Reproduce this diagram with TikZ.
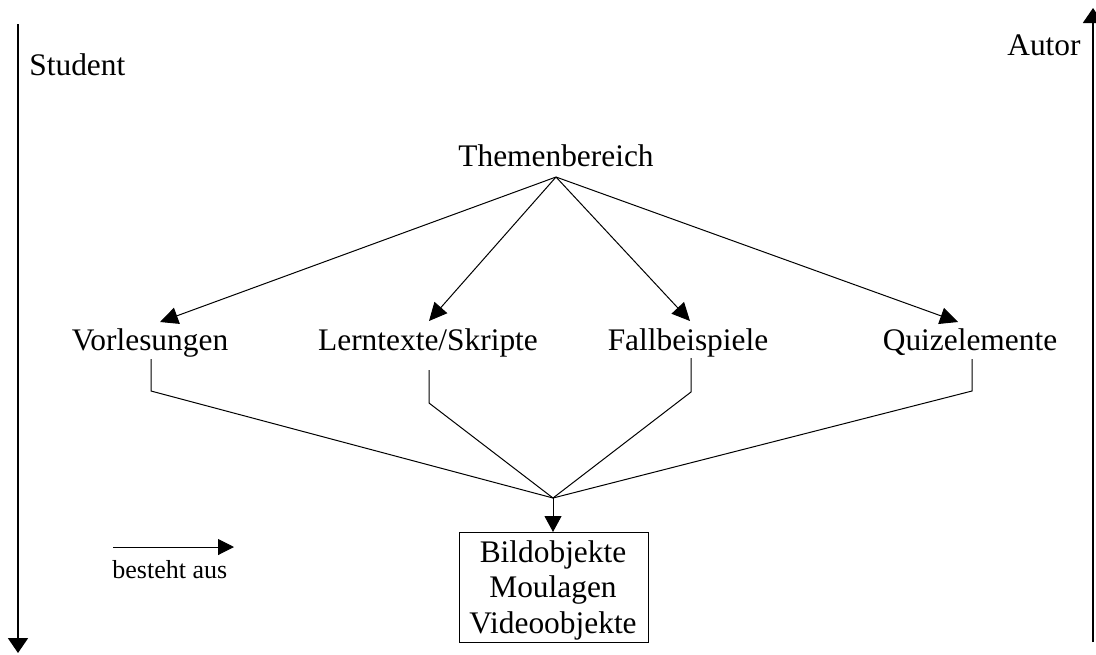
\documentclass[tikz,border=0pt]{standalone}
\usepackage{fontspec}
\setmainfont{Liberation Serif}
\usetikzlibrary{arrows.meta}
\begin{document}
\begin{tikzpicture}[x=0.5pt,y=-0.5pt,
  lbl/.style={inner sep=0pt,anchor=base,font=\fontsize{15.7}{18}\selectfont},
  small/.style={inner sep=0pt,anchor=base west,font=\fontsize{13}{15}\selectfont},
  thin/.style={line width=0.5pt},
  link/.style={thin,-{Triangle[length=9pt,width=8.5pt]}},
  axis/.style={line width=1pt,-{Triangle[length=7.5pt,width=10pt]}}]
\useasboundingbox (0,0) rectangle (1096,654);

% role axes
\coordinate (s0) at (18,24);
\coordinate (s1) at (18,653);
\draw[axis] (s0) -- (s1);
\coordinate (a0) at (1093,642);
\coordinate (a1) at (1093,8);
\draw[axis] (a0) -- (a1);
\node[small,anchor=base west,font=\fontsize{15.7}{18}\selectfont] (student) at (29,75) {Student};
\node[small,anchor=base east,font=\fontsize{15.7}{18}\selectfont] (autor) at (1081,55) {Autor};

% topic and its parts
\node[lbl] (thema) at (556,166) {Themenbereich};
\coordinate (apex) at (556,177);

\node[lbl] (vor) at (150,350) {Vorlesungen};
\node[lbl] (lern) at (428,350) {Lerntexte/Skripte};
\node[lbl] (fall) at (688,350) {Fallbeispiele};
\node[lbl] (quiz) at (970,350) {Quizelemente};

\coordinate (tvor) at (160,322);
\coordinate (tlern) at (429,321);
\coordinate (tfall) at (690,321);
\coordinate (tquiz) at (958,322);
\draw[link] (apex) -- (tvor);
\draw[link] (apex) -- (tlern);
\draw[link] (apex) -- (tfall);
\draw[link] (apex) -- (tquiz);

% media objects shared by all parts
\coordinate (join) at (553,498);
\draw[thin] (151,359) -- (151,391) -- (join);
\draw[thin] (429,370) -- (429,403) -- (join);
\draw[thin] (691,358) -- (691,392) -- (join);
\draw[thin] (972,359) -- (972,391) -- (join);

\draw[thin] (459,532) rectangle (648,642);
\node[lbl] (bild) at (553,562) {Bildobjekte};
\node[lbl] (moul) at (553,597) {Moulagen};
\node[lbl] (video) at (553,633) {Videoobjekte};
\coordinate (boxtop) at (553,532);
\draw[thin,-{Triangle[length=8pt,width=8.5pt]}] (join) -- (boxtop);

% legend
\coordinate (l0) at (113,547);
\coordinate (l1) at (234,547);
\draw[thin,-{Triangle[length=8pt,width=8pt]}] (l0) -- (l1);
\node[small] (legend) at (112,578) {besteht aus};
\end{tikzpicture}
\end{document}
